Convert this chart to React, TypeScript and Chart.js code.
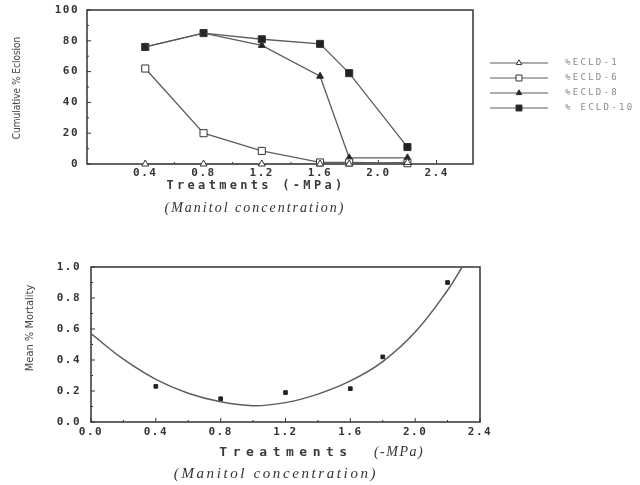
import React, { useEffect, useRef } from "react";
import { Chart, registerables } from "chart.js";

Chart.register(...registerables);

// ---------- Data: top chart (Cumulative % Eclosion) ----------
const TREATMENTS_TOP = [0.4, 0.8, 1.2, 1.6, 1.8, 2.2];
const ECLD_1 = [0, 0, 0, 0, 0, 1];
const ECLD_6 = [62, 20, 8.5, 1, 1, 0.5];
const ECLD_8 = [76, 85, 77, 57, 4, 4];
const ECLD_10 = [76, 85, 81, 78, 59, 11];
const SERIES_NAMES = ["%ECLD-1", "%ECLD-6", "%ECLD-8", "% ECLD-10"];
const TOP_X_TICKS = [0.4, 0.8, 1.2, 1.6, 2.0, 2.4];
const TOP_Y_TICKS = [0, 20, 40, 60, 80, 100];

// ---------- Data: bottom chart (Mean % Mortality) ----------
const TREATMENTS_BOTTOM = [0.4, 0.8, 1.2, 1.6, 1.8, 2.2];
const MORTALITY = [0.23, 0.15, 0.19, 0.215, 0.42, 0.9];
const FIT_X = [0, 0.2, 0.4, 0.6, 0.8, 1.0, 1.2, 1.4, 1.6, 1.8, 2.0, 2.2, 2.29];
const FIT_Y = [0.57, 0.405, 0.275, 0.185, 0.13, 0.105, 0.125, 0.18, 0.265, 0.39, 0.58, 0.85, 1.0];
const BOTTOM_X_TICKS = [0, 0.4, 0.8, 1.2, 1.6, 2.0, 2.4];
const BOTTOM_Y_TICKS = [0, 0.2, 0.4, 0.6, 0.8, 1.0];

const AXIS_COLOR = "#333";
const LINE_COLOR = "#5c5c5c";
const MARK_COLOR = "#222";
const TICK_FONT = { family: "'DejaVu Sans Mono', monospace", size: 11, weight: "bold" as const };

const spacingPlugin = {
  id: "spacing",
  beforeDraw(chart: any) {
    chart.ctx.letterSpacing = "1.5px";
  },
  afterDraw(chart: any) {
    chart.ctx.letterSpacing = "0px";
  },
};

const framePlugin = {
  id: "frame",
  beforeDatasetsDraw(chart: any) {
    const { ctx, chartArea } = chart;
    const { left, right, top, bottom } = chartArea;
    ctx.save();
    ctx.strokeStyle = AXIS_COLOR;
    ctx.lineWidth = 1.5;
    ctx.strokeRect(left, top, right - left, bottom - top);
    ctx.lineWidth = 1;
    const xs = chart.scales.x;
    const ys = chart.scales.y;
    const xv = xs.ticks.map((t: any) => t.value);
    const yv = ys.ticks.map((t: any) => t.value);
    const mids = (v: number[]) => v.slice(1).map((b, i) => (b + v[i]) / 2);
    ctx.beginPath();
    xv.forEach((v: number) => {
      const p = xs.getPixelForValue(v);
      ctx.moveTo(p, bottom);
      ctx.lineTo(p, bottom - 4);
    });
    mids(xv).forEach((v: number) => {
      const p = xs.getPixelForValue(v);
      ctx.moveTo(p, bottom);
      ctx.lineTo(p, bottom - 2);
    });
    yv.forEach((v: number) => {
      const p = ys.getPixelForValue(v);
      ctx.moveTo(left, p);
      ctx.lineTo(left + 4, p);
    });
    mids(yv).forEach((v: number) => {
      const p = ys.getPixelForValue(v);
      ctx.moveTo(left, p);
      ctx.lineTo(left + 2, p);
    });
    ctx.stroke();
    ctx.restore();
  },
};

function drawMarker(ctx: CanvasRenderingContext2D, style: string, x: number, y: number, r: number, fill: string, stroke: string) {
  ctx.beginPath();
  if (style === "triangle") {
    ctx.moveTo(x, y - r);
    ctx.lineTo(x + r * 0.866, y + r * 0.5);
    ctx.lineTo(x - r * 0.866, y + r * 0.5);
    ctx.closePath();
  } else {
    const s = r * Math.SQRT1_2;
    ctx.rect(x - s, y - s, 2 * s, 2 * s);
  }
  ctx.fillStyle = fill;
  ctx.fill();
  ctx.strokeStyle = stroke;
  ctx.lineWidth = 1;
  ctx.stroke();
}

const legendPlugin = {
  id: "sideLegend",
  afterDraw(chart: any, _a: any, opts: any) {
    const { ctx } = chart;
    ctx.save();
    chart.data.datasets.forEach((ds: any, i: number) => {
      const y = opts.y + i * opts.gap;
      ctx.strokeStyle = ds.borderColor;
      ctx.lineWidth = 1;
      ctx.beginPath();
      ctx.moveTo(opts.x, y);
      ctx.lineTo(opts.x + opts.len, y);
      ctx.stroke();
      drawMarker(ctx, ds.pointStyle, opts.x + opts.len / 2, y, ds.pointRadius - 0.8, ds.pointBackgroundColor, ds.pointBorderColor);
      ctx.fillStyle = "#8a8a8a";
      ctx.font = "9px 'DejaVu Sans Mono', monospace";
      ctx.letterSpacing = "2.3px";
      ctx.textBaseline = "middle";
      ctx.textAlign = "left";
      ctx.fillText(ds.label, opts.x + opts.len + 17, y);
    });
    ctx.restore();
  },
};

const noPad = (s: any) => {
  s.paddingTop = 0;
  s.paddingBottom = 0;
  s.paddingLeft = 0;
  s.paddingRight = 0;
};

const TopChart: React.FC = () => {
  const ref = useRef<HTMLCanvasElement | null>(null);
  useEffect(() => {
    if (!ref.current) return;
    const mk = (vals: number[]) => TREATMENTS_TOP.map((x, i) => ({ x, y: vals[i] }));
    const styles = [
      { data: ECLD_1, pointStyle: "triangle", fill: "#fff", r: 4 },
      { data: ECLD_6, pointStyle: "rect", fill: "#fff", r: 5 },
      { data: ECLD_8, pointStyle: "triangle", fill: MARK_COLOR, r: 4 },
      { data: ECLD_10, pointStyle: "rect", fill: MARK_COLOR, r: 5 },
    ];
    const chart = new Chart(ref.current, {
      type: "line",
      data: {
        datasets: styles.map((s, i) => ({
          label: SERIES_NAMES[i],
          data: mk(s.data),
          borderColor: LINE_COLOR,
          borderWidth: 1.3,
          pointStyle: s.pointStyle,
          pointRadius: s.r,
          pointBackgroundColor: s.fill,
          pointBorderColor: "#333",
          pointBorderWidth: 1,
          tension: 0,
          clip: false,
        })),
      } as any,
      options: {
        animation: false,
        responsive: false,
        layout: { padding: { top: 10, right: 167, left: 0, bottom: 0 } },
        plugins: {
          legend: { display: false },
          tooltip: { enabled: false },
          sideLegend: { x: 490, y: 63, gap: 15, len: 58 },
        } as any,
        scales: {
          x: {
            type: "linear",
            min: 0,
            max: 2.65,
            grid: { display: false, drawTicks: false },
            border: { display: false },
            afterBuildTicks: (s: any) => {
              s.ticks = TOP_X_TICKS.map((v) => ({ value: v }));
            },
            afterFit: (s: any) => {
              s.height = 66;
              noPad(s);
            },
            ticks: {
              color: AXIS_COLOR,
              font: TICK_FONT,
              padding: 3,
              maxRotation: 0,
              callback: (v: any) => Number(v).toFixed(1),
            },
          },
          y: {
            type: "linear",
            min: 0,
            max: 100,
            grid: { display: false, drawTicks: false },
            border: { display: false },
            afterBuildTicks: (s: any) => {
              s.ticks = TOP_Y_TICKS.map((v) => ({ value: v }));
            },
            afterFit: (s: any) => {
              s.width = 87;
              noPad(s);
            },
            ticks: { color: AXIS_COLOR, font: TICK_FONT, padding: 8 },
          },
        },
      },
      plugins: [spacingPlugin, framePlugin, legendPlugin],
    });
    return () => chart.destroy();
  }, []);
  return <canvas ref={ref} width={640} height={230} style={{ position: "absolute", left: 0, top: 0 }} />;
};

const BottomChart: React.FC = () => {
  const ref = useRef<HTMLCanvasElement | null>(null);
  useEffect(() => {
    if (!ref.current) return;
    const chart = new Chart(ref.current, {
      type: "scatter",
      data: {
        datasets: [
          {
            label: "fit",
            data: FIT_X.map((x, i) => ({ x, y: FIT_Y[i] })),
            showLine: true,
            borderColor: LINE_COLOR,
            borderWidth: 1.5,
            pointRadius: 0,
            tension: 0.4,
          },
          {
            label: "Mean % Mortality",
            data: TREATMENTS_BOTTOM.map((x, i) => ({ x, y: MORTALITY[i] })),
            showLine: false,
            pointStyle: "rect",
            pointRadius: 2.6,
            pointBackgroundColor: MARK_COLOR,
            pointBorderColor: MARK_COLOR,
            pointBorderWidth: 1,
          },
        ],
      } as any,
      options: {
        animation: false,
        responsive: false,
        layout: { padding: { top: 27, right: 160, left: 0, bottom: 0 } },
        plugins: { legend: { display: false }, tooltip: { enabled: false } },
        scales: {
          x: {
            type: "linear",
            min: 0,
            max: 2.4,
            grid: { display: false, drawTicks: false },
            border: { display: false },
            afterBuildTicks: (s: any) => {
              s.ticks = BOTTOM_X_TICKS.map((v) => ({ value: v }));
            },
            afterFit: (s: any) => {
              s.height = 63;
              noPad(s);
            },
            ticks: {
              color: AXIS_COLOR,
              font: TICK_FONT,
              padding: 4,
              maxRotation: 0,
              callback: (v: any) => Number(v).toFixed(1),
            },
          },
          y: {
            type: "linear",
            min: 0,
            max: 1,
            grid: { display: false, drawTicks: false },
            border: { display: false },
            afterBuildTicks: (s: any) => {
              s.ticks = BOTTOM_Y_TICKS.map((v) => ({ value: v }));
            },
            afterFit: (s: any) => {
              s.width = 91;
              noPad(s);
            },
            ticks: {
              color: AXIS_COLOR,
              font: TICK_FONT,
              padding: 10,
              callback: (v: any) => Number(v).toFixed(1),
            },
          },
        },
      },
      plugins: [spacingPlugin, framePlugin],
    });
    return () => chart.destroy();
  }, []);
  return <canvas ref={ref} width={640} height={245} style={{ position: "absolute", left: 0, top: 240 }} />;
};

const T: React.FC<{ x: number; y: number; rot?: boolean; style?: React.CSSProperties; children: React.ReactNode }> = ({ x, y, rot, style, children }) => (
  <div
    style={{
      position: "absolute",
      left: x,
      top: y,
      whiteSpace: "nowrap",
      lineHeight: 1,
      transform: rot ? "translate(-50%,-50%) rotate(-90deg)" : "translate(-50%,-50%)",
      ...style,
    }}
  >
    {children}
  </div>
);

const narrow: React.CSSProperties = {
  fontFamily: "'Liberation Sans Narrow', 'DejaVu Sans Condensed', 'DejaVu Sans', sans-serif",
  fontStretch: "condensed",
  fontSize: 10,
  color: "#444",
};
const typed: React.CSSProperties = {
  fontFamily: "'DejaVu Sans Mono', monospace",
  fontWeight: "bold",
  color: "#3a3a3a",
};
const hand: React.CSSProperties = {
  fontFamily: "'Liberation Serif', 'DejaVu Serif', serif",
  fontStyle: "italic",
  color: "#333",
};

export default function App() {
  useEffect(() => {
    document.body.style.margin = "0";
  }, []);
  return (
    <div style={{ position: "absolute", left: 0, top: 0, width: 640, height: 485, background: "#fff", overflow: "hidden" }}>
      <TopChart />
      <BottomChart />
      <T x={17} y={88} rot style={narrow}>Cumulative % Eclosion</T>
      <T x={256} y={185} style={{ ...typed, fontSize: 12, letterSpacing: 3.3 }}>Treatments (-MPa)</T>
      <T x={255} y={208} style={{ ...hand, fontSize: 14, letterSpacing: 2 }}>(Manitol concentration)</T>
      <T x={29} y={328} rot style={{ ...narrow, fontSize: 11 }}>Mean % Mortality</T>
      <T x={286} y={451} style={{ ...typed, fontSize: 13, letterSpacing: 5.5 }}>Treatments</T>
      <T x={399} y={452} style={{ ...hand, fontSize: 14, letterSpacing: 1.5 }}>(-MPa)</T>
      <T x={276} y={473} style={{ ...hand, fontSize: 15, letterSpacing: 2.6 }}>(Manitol concentration)</T>
    </div>
  );
}
